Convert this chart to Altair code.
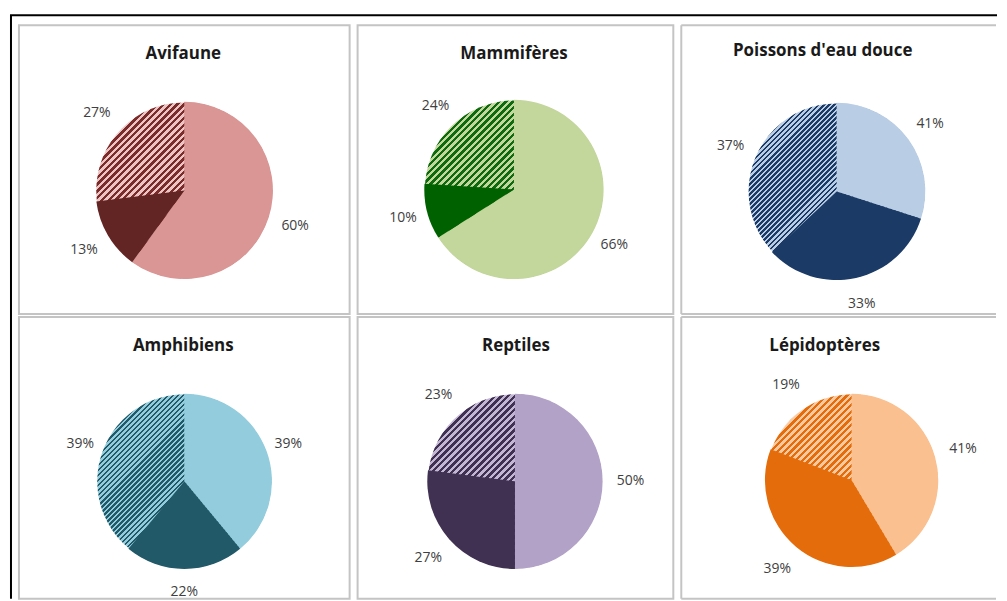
import math
import altair as alt
import pandas as pd

# ---------------- data ----------------
panels = ["Avifaune", "Mammifères", "Poissons d'eau douce",
          "Amphibiens", "Reptiles", "Lépidoptères"]
values_light = [60, 66, 30, 39, 50, 41]
values_dark = [13, 10, 33, 22, 27, 39]
values_hatch = [27, 24, 37, 39, 23, 19]
# data labels as printed on the chart
labels_light = ["60%", "66%", "41%", "39%", "50%", "41%"]
labels_dark = ["13%", "10%", "33%", "22%", "27%", "39%"]
labels_hatch = ["27%", "24%", "37%", "39%", "23%", "19%"]

# ---------------- styles ----------------
light_colors = ["#D99694", "#C3D69B", "#B9CDE5", "#93CDDD", "#B3A2C7", "#FAC090"]
dark_colors = ["#632523", "#006100", "#1B3A66", "#215968", "#403152", "#E46C0A"]
hatch_fg = ["#7B2C2A", "#0E6A0E", "#1B3A66", "#215968", "#403152", "#E46C0A"]
hatch_bg = ["#EBC4C3", "#C3D69B", "#B9CDE5", "#93CDDD", "#C3B6D4", "#FBC9A0"]
hatch_period = [4.8, 4.8, 3.6, 3.6, 4.8, 4.8]

BORDER = "#C4C4C4"
col_w = [332, 317, 316]
row_h = [290, 283]
centers = [(166, 166), (157, 165), (156, 167), (166, 165), (158, 165), (171, 164)]
radii = [89, 90, 89, 88, 88, 87]
title_pos = [(165, 29), (157, 29), (142, 26), (165, 29), (159, 29), (144, 29)]
label_r = [117, 115, 116, 111, 116, 116]

FONT = "Open Sans"


def hatch_gradient(i):
    # the gradient is laid on a full (square-bounded) disk, so 0,0 -> 1,1 gives 45 degree stripes
    span = 2 * math.sqrt(2) * radii[i]
    nstripes = max(1, int(round(span / hatch_period[i])))
    stops = []
    for k in range(nstripes):
        o0 = k / nstripes
        om = (k + 0.5) / nstripes
        o1 = (k + 1) / nstripes
        stops += [
            {"offset": o0, "color": hatch_fg[i]},
            {"offset": om, "color": hatch_fg[i]},
            {"offset": om, "color": hatch_bg[i]},
            {"offset": o1, "color": hatch_bg[i]},
        ]
    return {"gradient": "linear", "x1": 0, "y1": 0, "x2": 1, "y2": 1, "stops": stops}


def make_panel(i, frame=False, open_right=False):
    vals = [values_light[i], values_dark[i], values_hatch[i]]
    df = pd.DataFrame({
        "kind": ["light", "dark", "hatch"],
        "order": [0, 1, 2],
        "value": vals,
        "label": [labels_light[i], labels_dark[i], labels_hatch[i]],
    })
    total = sum(vals)
    cx, cy = centers[i]
    r = radii[i]
    w = col_w[i % 3]
    h = row_h[i // 3]
    tscale = alt.Scale(domain=[0, total], range=[0, 2 * math.pi])
    base = alt.Chart(df).transform_stack(
        stack="value", groupby=[], as_=["v0", "v1"],
        sort=[alt.SortField("order", order="ascending")]
    ).transform_calculate(mid="(datum.v0 + datum.v1) / 2")

    # hatched disk underneath: the hatched slice shows where no solid slice covers it
    disk = alt.Chart(df).transform_aggregate(total="sum(value)").mark_arc(
        radius=r - 0.6, fill=hatch_gradient(i)
    ).encode(
        theta=alt.Theta("total:Q", scale=tscale),
        x=alt.value(cx), y=alt.value(cy),
    )
    arcs = base.transform_filter("datum.kind != 'hatch'").mark_arc(radius=r).encode(
        theta=alt.Theta("v0:Q", scale=tscale),
        theta2="v1:Q",
        color=alt.Color("kind:N", scale=alt.Scale(
            domain=["light", "dark"],
            range=[light_colors[i], dark_colors[i]]), legend=None),
        x=alt.value(cx), y=alt.value(cy),
    )
    text = base.mark_text(radius=label_r[i], font=FONT, fontSize=14, color="#404040").encode(
        theta=alt.Theta("mid:Q", scale=tscale),
        text="label:N",
        x=alt.value(cx), y=alt.value(cy),
    )
    tx, ty = title_pos[i]
    title = alt.Chart(pd.DataFrame({"t": [panels[i]]})).mark_text(
        font=FONT, fontSize=17, fontWeight="bold", color="#1A1A1A"
    ).encode(text="t:N", x=alt.value(tx), y=alt.value(ty))
    layers = [disk, arcs, text, title]
    one = pd.DataFrame({"d": [0]})
    if open_right:
        # border on left, top and bottom only (the box runs on past the right edge)
        layers += [
            alt.Chart(one).mark_rule(color=BORDER, strokeWidth=2).encode(
                x=alt.value(0), y=alt.value(0), y2=alt.value(h)),
            alt.Chart(one).mark_rule(color=BORDER, strokeWidth=2).encode(
                x=alt.value(0), x2=alt.value(w), y=alt.value(0)),
            alt.Chart(one).mark_rule(color=BORDER, strokeWidth=2).encode(
                x=alt.value(0), x2=alt.value(w), y=alt.value(h)),
        ]
    if frame:
        layers += [
            alt.Chart(one).mark_rule(color="black", strokeWidth=2).encode(
                x=alt.value(-8), y=alt.value(-10), y2=alt.value(576)),
            alt.Chart(one).mark_rule(color="black", strokeWidth=2).encode(
                x=alt.value(-9), x2=alt.value(982), y=alt.value(-10)),
        ]
    chart = alt.layer(*layers).resolve_scale(color="independent", theta="independent")
    if open_right:
        return chart.properties(width=w, height=h, view=alt.ViewBackground(stroke="transparent"))
    return chart.properties(width=w, height=h)


p = [make_panel(i, frame=(i == 0), open_right=(i % 3 == 2)) for i in range(6)]

chart = alt.concat(*p, columns=3, spacing={"row": 3, "column": 8}, bounds="flush").resolve_scale(
    color="independent", theta="independent"
).configure_view(
    stroke=BORDER, strokeWidth=2
).properties(
    padding={"left": 0, "top": 4, "right": 0, "bottom": 0},
    background="white",
)

chart.save("out.html", embed_options={"renderer": "svg", "actions": False})
